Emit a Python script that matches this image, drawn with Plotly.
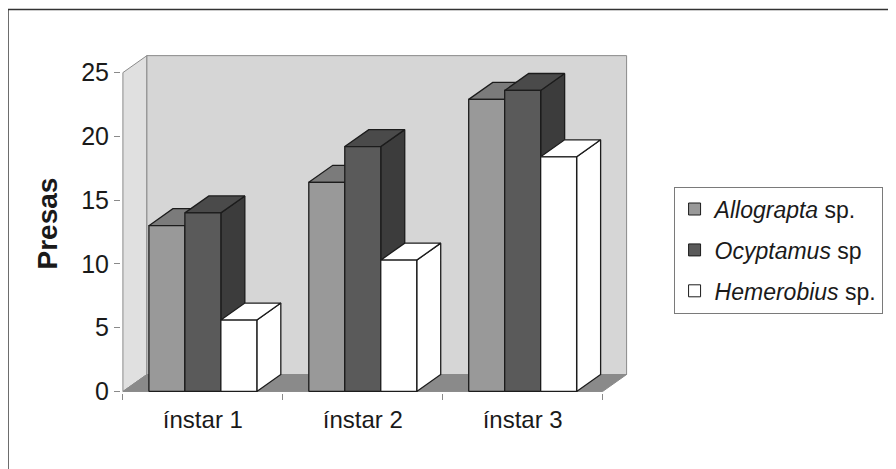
import plotly.graph_objects as go

# ---------------- data ----------------
categories = ["ínstar 1", "ínstar 2", "ínstar 3"]
allograpta = [13.0, 16.4, 22.9]
ocyptamus = [14.0, 19.2, 23.6]
hemerobius = [5.6, 10.3, 18.4]
series_names = ["<i>Allograpta</i> sp.", "<i>Ocyptamus</i> sp", "<i>Hemerobius</i> sp."]
y_ticks = [0, 5, 10, 15, 20, 25]

# ---------------- geometry / style ----------------
W, H = 896, 469
OFF = 8                      # page body margin offset
ncat = len(categories)
ymax_axis = 25
dx, dy = 0.15, 1.33          # 3D depth offset in axis units
bw = 0.225                   # bar width (category units)
xr = [-0.012, ncat + dx + 0.015]
yr = [-0.12, ymax_axis + dy + 0.05]
ML, MT = 121.1 - OFF, 55.4 - OFF
MR = W - (629.4 - OFF)
MB = H - (393.5 - OFF)
plot_w = W - ML - MR
plot_h = H - MT - MB

def px_to_paper_x(px):
    return (px - OFF - ML) / plot_w

def px_to_paper_y(py):
    return (H - MB - (py - OFF)) / plot_h

FONT = "Liberation Sans, Arial, sans-serif"
EDGE = "#1c1c1c"
styles = [
    dict(front="#999999", top="#7b7b7b", side="#6a6a6a"),
    dict(front="#5a5a5a", top="#4a4a4a", side="#3c3c3c"),
    dict(front="#ffffff", top="#ffffff", side="#ffffff"),
]
values = [allograpta, ocyptamus, hemerobius]

fig = go.Figure()

def add_poly(xs, ys, fill, line_color, lw=1.0):
    fig.add_trace(go.Scatter(x=xs, y=ys, mode="lines", fill="toself",
                             fillcolor=fill, line=dict(color=line_color, width=lw),
                             hoverinfo="skip", showlegend=False))

# walls and floor
n = ncat
add_poly([0, dx, dx, 0, 0], [0, dy, ymax_axis + dy, ymax_axis, 0], "#e0e0e0", "#8a8a8a")
add_poly([dx, n + dx, n + dx, dx, dx], [dy, dy, ymax_axis + dy, ymax_axis + dy, dy], "#d6d6d6", "#8a8a8a")
add_poly([0, n, n + dx, dx, 0], [0, 0, dy, dy, 0], "#8a8a8a", "#8a8a8a")

# 3D bars, drawn series by series
for si, (vals, st) in enumerate(zip(values, styles)):
    fx, fy, tx, ty, sx, sy = [], [], [], [], [], []
    for ci, h in enumerate(vals):
        c = ci + 0.5
        xl = c - 1.5 * bw + si * bw
        xrr = xl + bw
        fx += [xl, xrr, xrr, xl, xl, None]
        fy += [0, 0, h, h, 0, None]
        tx += [xl, xrr, xrr + dx, xl + dx, xl, None]
        ty += [h, h, h + dy, h + dy, h, None]
        sx += [xrr, xrr + dx, xrr + dx, xrr, xrr, None]
        sy += [0, dy, h + dy, h, 0, None]
    add_poly(sx, sy, st["side"], EDGE, 1.3)
    add_poly(tx, ty, st["top"], EDGE, 1.3)
    add_poly(fx, fy, st["front"], EDGE, 1.3)

# legend entries
for si, st in enumerate(styles):
    fig.add_trace(go.Bar(x=[None], y=[None], name=series_names[si],
                         marker=dict(color=st["front"], line=dict(color=EDGE, width=1)),
                         legendgroup=f"g{si}", showlegend=True))

fig.update_layout(
    width=W, height=H,
    paper_bgcolor="white", plot_bgcolor="rgba(0,0,0,0)",
    margin=dict(l=ML, r=MR, t=MT, b=MB, autoexpand=False),
    font=dict(family=FONT, color="#1a1a1a"),
    showlegend=True,
    legend=dict(
        x=px_to_paper_x(674), y=px_to_paper_y(187), xanchor="left", yanchor="top",
        bordercolor="#7a7a7a", borderwidth=1, bgcolor="white",
        font=dict(size=23, family=FONT, color="#1a1a1a"),
        traceorder="grouped", tracegroupgap=8, itemwidth=30,
    ),
    xaxis=dict(
        range=xr, showgrid=False, zeroline=False, showline=False,
        tickmode="array", tickvals=[i + 0.5 for i in range(ncat)], ticktext=categories,
        ticks="outside", ticklen=5, tickcolor="rgba(0,0,0,0)",
        tickfont=dict(size=24, family=FONT, color="#1a1a1a"),
        minor=dict(tickmode="array", tickvals=list(range(ncat + 1)), ticks="outside",
                   ticklen=6, tickcolor="#8a8a8a", showgrid=False),
        fixedrange=True,
    ),
    yaxis=dict(
        range=yr, showgrid=False, zeroline=False, showline=False,
        tickmode="array", tickvals=y_ticks, ticks="outside", ticklen=6,
        tickcolor="#8a8a8a", tickfont=dict(size=25, family=FONT, color="#1a1a1a"),
        fixedrange=True,
    ),
    annotations=[dict(
        text="<b>Presas</b>", textangle=-90, showarrow=False,
        xref="paper", yref="paper", x=px_to_paper_x(48), y=px_to_paper_y(224),
        xanchor="center", yanchor="middle", font=dict(size=28, family=FONT, color="#1a1a1a"),
    )],
    shapes=[
        dict(type="line", xref="paper", yref="paper",
             x0=px_to_paper_x(8), x1=px_to_paper_x(8), y0=px_to_paper_y(10), y1=px_to_paper_y(480),
             line=dict(color="#333333", width=1.5)),
        dict(type="line", xref="paper", yref="paper",
             x0=px_to_paper_x(8), x1=px_to_paper_x(896), y0=px_to_paper_y(10), y1=px_to_paper_y(10),
             line=dict(color="#333333", width=1.5)),
    ],
)

fig.write_html("out.html")
